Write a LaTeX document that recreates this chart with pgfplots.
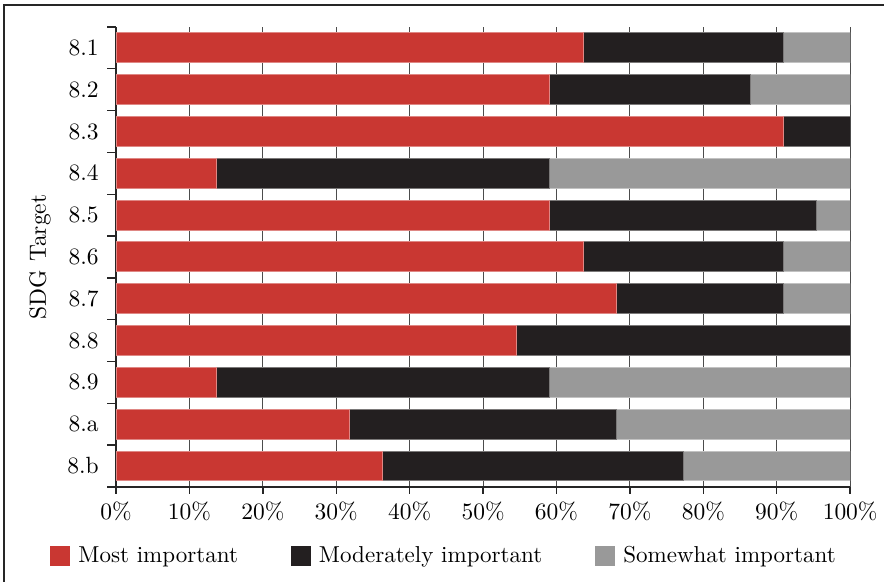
\documentclass[border=0pt]{standalone}
\usepackage{pgfplots}
\pgfplotsset{compat=1.18}
\definecolor{cred}{RGB}{201,55,50}
\definecolor{cblack}{RGB}{35,31,32}
\definecolor{cgray}{RGB}{153,153,153}
\begin{document}
\begin{tikzpicture}
\path[use as bounding box] (0,0) rectangle (384pt,252.8pt);
\draw[line width=0.9pt, color=black!85] (1.74pt,0) -- (1.74pt,250.6pt) -- (384pt,250.6pt);
\begin{axis}[
  at={(50.4pt,41.3pt)}, anchor=south west,
  scale only axis, width=318.9pt, height=199.8pt,
  xbar stacked, bar width=13pt,
  xmin=0, xmax=100, ymin=-0.5, ymax=10.5,
  axis x line=bottom, axis y line=left,
  axis line style={-, line width=0.6pt, color=black!85},
  tick align=outside,
  xtick={0,10,...,100},
  xticklabels={0\%,10\%,20\%,30\%,40\%,50\%,60\%,70\%,80\%,90\%,100\%},
  ytick={0,...,10},
  yticklabels={8.b,8.a,8.9,8.8,8.7,8.6,8.5,8.4,8.3,8.2,8.1},
  minor ytick={-0.5,0.5,...,10.5},
  major tick length=3pt, minor tick length=3.9pt,
  major y tick style={draw=none},
  minor y tick style={draw=black!85, line width=0.6pt},
  major x tick style={draw=black!85, line width=0.6pt},
  xmajorgrids, grid style={color=black!70, line width=0.45pt},
  ticklabel style={font=\fontsize{10.2}{12}\selectfont},
  yticklabel style={xshift=-1pt},
  ylabel={SDG Target},
  ylabel style={at={(axis description cs:-0.1035,0.5)}, anchor=center, font=\fontsize{10.2}{12}\selectfont},
  legend columns=3,
  legend style={draw=none, fill=none, at={(axis description cs:0,0)}, anchor=west,
    xshift=-28.7pt, yshift=-30pt, inner sep=0pt, font=\fontsize{10}{12}\selectfont,
    /tikz/every odd column/.append style={column sep=1.5pt},
    /tikz/every even column/.append style={column sep=21pt}},
  legend image code/.code={\path[#1, draw=none] (0pt,-4.35pt) rectangle (8.7pt,4.35pt);},
]
\addplot[fill=cred, draw=cred!60!white, line width=0.4pt] coordinates {
 (63.64,10) (59.09,9) (90.91,8) (13.64,7) (59.09,6) (63.64,5) (68.18,4) (54.55,3) (13.64,2) (31.82,1) (36.36,0)};
\addplot[fill=cblack, draw=cblack!60!white, line width=0.4pt] coordinates {
 (27.27,10) (27.27,9) (9.09,8) (45.45,7) (36.36,6) (27.27,5) (22.73,4) (45.45,3) (45.45,2) (36.36,1) (40.91,0)};
\addplot[fill=cgray, draw=cgray!60!white, line width=0.4pt] coordinates {
 (9.09,10) (13.64,9) (0,8) (40.91,7) (4.55,6) (9.09,5) (9.09,4) (0,3) (40.91,2) (31.82,1) (22.73,0)};
\legend{Most important, Moderately important, Somewhat important}
\end{axis}
\end{tikzpicture}
\end{document}
